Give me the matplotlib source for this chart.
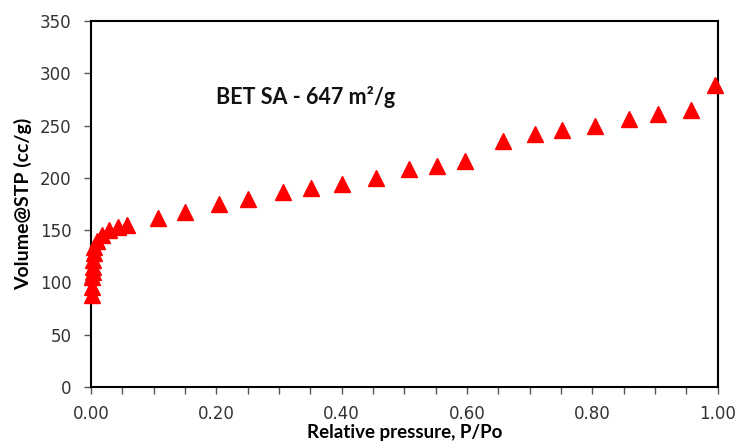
import matplotlib
matplotlib.use("Agg")
import matplotlib.pyplot as plt
from matplotlib.ticker import MultipleLocator, FormatStrFormatter

rel_pressure = [0.002, 0.002, 0.002, 0.003, 0.003, 0.003, 0.004, 0.005, 0.010, 0.017, 0.029,
                0.043, 0.057, 0.107, 0.150, 0.204, 0.250, 0.306, 0.351, 0.400, 0.455,
                0.507, 0.552, 0.597, 0.657, 0.708, 0.751, 0.804, 0.858, 0.904, 0.958, 0.996]
volume = [88, 96, 105, 110, 115, 121, 128, 134, 140, 145, 150,
          153, 155, 162, 167, 175, 180, 186, 190, 194, 200,
          208, 211, 216, 235, 242, 246, 250, 256, 261, 265, 289]

annotation = "BET SA - 647 m\u00b2/g"
x_label = "Relative pressure, P/Po"
y_label = "Volume@STP (cc/g)"

fig = plt.figure(figsize=(7.4, 4.43), dpi=100)
ax = fig.add_axes([0.123, 0.1264, 0.847, 0.8262])
ax.plot(rel_pressure, volume, linestyle="none", marker="^", markersize=11,
        color="#ff0000", markeredgecolor="#ff0000", clip_on=False, zorder=5)

ax.set_xlim(0, 1.0)
ax.set_ylim(0, 350)
ax.xaxis.set_major_locator(MultipleLocator(0.2))
ax.xaxis.set_minor_locator(MultipleLocator(0.05))
ax.xaxis.set_major_formatter(FormatStrFormatter("%.2f"))
ax.yaxis.set_major_locator(MultipleLocator(50))

for s in ax.spines.values():
    s.set_linewidth(1.5)
    s.set_color("black")
ax.tick_params(axis="both", which="both", direction="out", color="#555555", width=1)
ax.tick_params(axis="both", which="major", length=5, labelsize=12, labelcolor="#333333")
ax.tick_params(axis="y", which="major", pad=9)
ax.tick_params(axis="x", which="major", pad=8)
ax.tick_params(axis="x", which="minor", length=5)

ax.text(0.2, 277, annotation, fontsize=15.5, fontweight="bold", family="Lato",
        va="center", ha="left", color="#111111")
ax.set_xlabel(x_label, fontsize=13.5, fontweight="bold", family="Lato", labelpad=1)
ax.set_ylabel(y_label, fontsize=14, fontweight="bold", family="Lato", labelpad=6)

fig.savefig("out.png", dpi=100)
